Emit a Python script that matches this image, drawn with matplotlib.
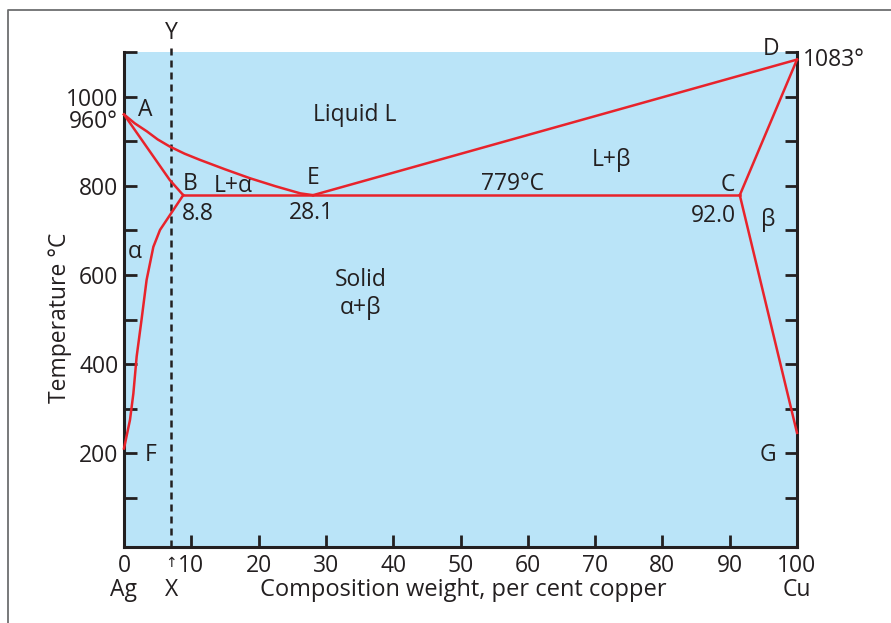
import matplotlib
matplotlib.use("Agg")
import matplotlib.pyplot as plt
from matplotlib.lines import Line2D

plt.rcParams['font.family'] = ['Open Sans', 'DejaVu Sans']

# phase boundaries (weight % Cu, deg C)
liquidus_ae_x = [0, 1.6, 3.4, 5.0, 6.8, 9.0, 11.3, 15.0, 18.7, 22.5, 26.2, 28.1]
liquidus_ae_t = [960, 940, 922, 904, 888, 872, 858, 837, 817, 799, 783, 779]
solidus_ab_x = [0, 6.8, 8.8]
solidus_ab_t = [960, 813, 779]
solvus_bf_x = [8.8, 5.35, 4.36, 3.36, 2.6, 1.88, 1.39, 0.89, 0]
solvus_bf_t = [779, 701, 663, 589, 499, 417, 334, 275, 211]
eutectic_x = [8.8, 91.5]
eutectic_t = [779, 779]
liquidus_ed_x = [28.1, 100]
liquidus_ed_t = [779, 1083]
solidus_dc_x = [100, 91.5]
solidus_dc_t = [1083, 779]
solvus_cg_x = [91.5, 100]
solvus_cg_t = [779, 246]

x_ticks = [0, 10, 20, 30, 40, 50, 60, 70, 80, 90, 100]
y_major = [200, 400, 600, 800, 1000]
y_minor = [100, 300, 500, 700, 900, 1100]
alloy_x = 7

BLUE = '#bae4f8'
RED = '#e8232b'
INK = '#231f20'
FS = 16.5

fig = plt.figure(figsize=(8.91, 6.23), dpi=100)
ax = fig.add_axes([124 / 891, 76 / 623, 673 / 891, 495 / 623])
ax.set_facecolor(BLUE)

# outer frame (cropped on right and bottom)
fig.add_artist(Line2D([8 / 891, 8 / 891, 1.0], [0, 1 - 10 / 623, 1 - 10 / 623],
                      transform=fig.transFigure, color='#6d6e70', lw=1.3))

lw = 1.8
for xs, ts in [(liquidus_ae_x, liquidus_ae_t), (solidus_ab_x, solidus_ab_t),
               (solvus_bf_x, solvus_bf_t), (eutectic_x, eutectic_t),
               (liquidus_ed_x, liquidus_ed_t), (solidus_dc_x, solidus_dc_t),
               (solvus_cg_x, solvus_cg_t)]:
    ax.plot(xs, ts, color=RED, lw=lw, solid_joinstyle='miter', clip_on=False, zorder=3)

ax.plot([alloy_x, alloy_x], [-10, 1118], color=INK, lw=1.8,
        linestyle=(0, (2.8, 2.0)), clip_on=False, zorder=2)

ax.set_xlim(0, 100)
ax.set_ylim(-10, 1100)

ax.spines['top'].set_visible(False)
for s in ['left', 'right', 'bottom']:
    ax.spines[s].set_linewidth(2.2)
    ax.spines[s].set_color(INK)

ax.set_xticks(x_ticks)
ax.set_xticklabels([str(v) for v in x_ticks])
ax.set_yticks(y_major)
ax.set_yticklabels([str(v) for v in y_major])
ax.set_yticks(y_minor, minor=True)
ax.tick_params(axis='both', which='both', direction='in', length=9, width=2,
               color=INK, labelcolor=INK, labelsize=FS)
ax.tick_params(axis='y', which='both', right=True, pad=4)
ax.tick_params(axis='x', pad=5)
for t in ax.xaxis.get_major_ticks():
    if t.get_loc() in (0, 100):
        t.tick1line.set_visible(False)

ax.set_ylabel('Temperature °C', fontsize=FS, color=INK)
ax.yaxis.set_label_coords(-0.0775, 0.4626)

def label(x, t, s, **kw):
    kw.setdefault('ha', 'center')
    kw.setdefault('va', 'center')
    kw.setdefault('fontsize', FS)
    ax.text(x, t, s, color=INK, clip_on=False, **kw)

label(7, 1143, 'Y')
label(3.1, 971, 'A')
label(34.3, 959, 'Liquid L')
label(9.8, 803, 'B')
label(16.2, 800, 'L+α')
label(28.1, 817, 'E')
label(57.8, 804, '779°C')
label(27.9, 738, '28.1')
label(10.9, 736, '8.8')
label(35.2, 589, 'Solid')
label(35.2, 525, 'α+β')
label(1.63, 652, 'α')
label(72.5, 858, 'L+β')
label(89.7, 802, 'C')
label(87.6, 732, '92.0')
label(95.7, 723, 'β')
label(96.2, 1106, 'D')
label(100.9, 1083, '1083°', ha='left')
label(4.0, 196, 'F')
label(95.7, 196, 'G')
label(-0.9, 943, '960°', ha='right')
label(alloy_x, -46, '↑', fontsize=10, family='DejaVu Sans')
label(0, -107, 'Ag')
label(alloy_x, -107, 'X')
label(50.4, -107, 'Composition weight, per cent copper', fontsize=17)
label(100, -107, 'Cu')

fig.savefig('out.png', dpi=100)
